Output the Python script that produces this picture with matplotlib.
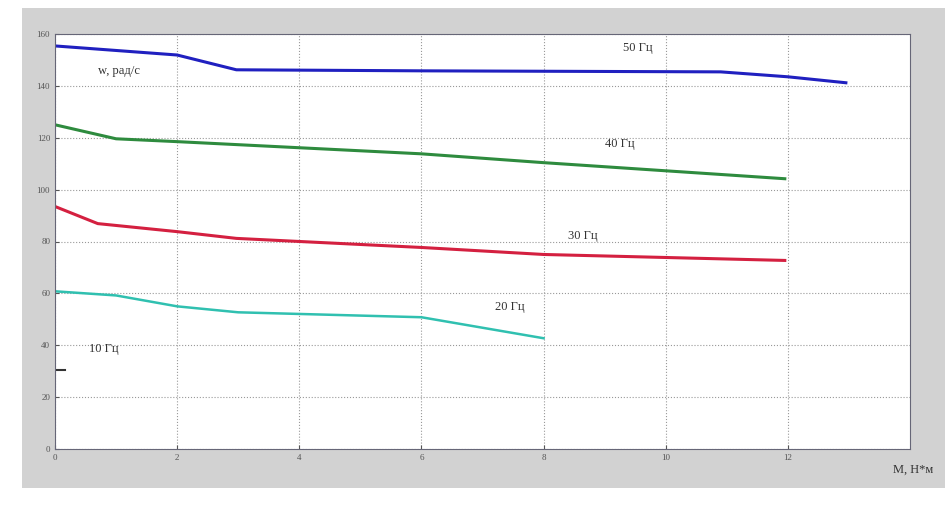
import matplotlib.pyplot as plt
from matplotlib.patches import Rectangle

# torque, N*m, and angular speed, rad/s, for each supply frequency
m_50 = [0, 2.0, 2.97, 6.0, 10.9, 12.0, 12.95]
w_50 = [155.4, 151.9, 146.2, 145.8, 145.4, 143.5, 141.2]

m_40 = [0, 1.0, 2.0, 6.0, 8.0, 11.95]
w_40 = [125.0, 119.6, 118.5, 113.8, 110.4, 104.2]

m_30 = [0, 0.7, 2.0, 2.97, 6.0, 8.0, 11.95]
w_30 = [93.5, 86.9, 83.8, 81.2, 77.7, 75.0, 72.7]

m_20 = [0, 1.0, 2.0, 3.0, 6.0, 8.0]
w_20 = [60.8, 59.2, 55.0, 52.7, 50.8, 42.7]

m_10 = [0, 0.16]
w_10 = [30.4, 30.4]

x_ticks = [0, 2, 4, 6, 8, 10, 12]
y_ticks = [0, 20, 40, 60, 80, 100, 120, 140, 160]

plt.rcParams['font.family'] = ['Liberation Serif', 'DejaVu Serif']

fig = plt.figure(figsize=(9.53, 5.15), dpi=100)
fig.patch.set_facecolor('white')
fig.patches.append(Rectangle((22 / 953, 27 / 515), 923 / 953, 480 / 515,
                             transform=fig.transFigure, facecolor='#d2d2d2',
                             edgecolor='none', zorder=-5))

ax = fig.add_axes([55 / 953, 66 / 515, 855 / 953, 415 / 515])
ax.set_zorder(2)
ax.set_facecolor('white')

ax.plot(m_50, w_50, color='#2020c0', lw=2.2)
ax.plot(m_40, w_40, color='#2e8b3e', lw=2.2)
ax.plot(m_30, w_30, color='#d42040', lw=2.2)
ax.plot(m_20, w_20, color='#30c0b0', lw=1.8)
ax.plot(m_10, w_10, color='#333333', lw=1.5)

ax.text(9.3, 153.5, '50 Гц', fontsize=9, color='#333333')
ax.text(9.0, 116.5, '40 Гц', fontsize=9, color='#333333')
ax.text(8.4, 81.0, '30 Гц', fontsize=9, color='#333333')
ax.text(7.2, 53.5, '20 Гц', fontsize=9, color='#333333')
ax.text(0.55, 37.5, '10 Гц', fontsize=9, color='#333333')
ax.text(0.7, 144.5, 'w, рад/с', fontsize=9, color='#333333')

ax.set_xlim(0, 14)
ax.set_ylim(0, 160)
ax.set_xticks(x_ticks)
ax.set_yticks(y_ticks)
ax.tick_params(direction='in', labelsize=6.5, colors='#555555', length=3)
ax.grid(True, linestyle=':', color='#999999', lw=0.8)
for s in ax.spines.values():
    s.set_color('#666677')
    s.set_linewidth(0.8)

fig.text(913 / 953, 1 - 470 / 515, 'M, Н*м', fontsize=9, color='#333333',
         ha='center', va='center')

fig.savefig('out.png', dpi=100)
